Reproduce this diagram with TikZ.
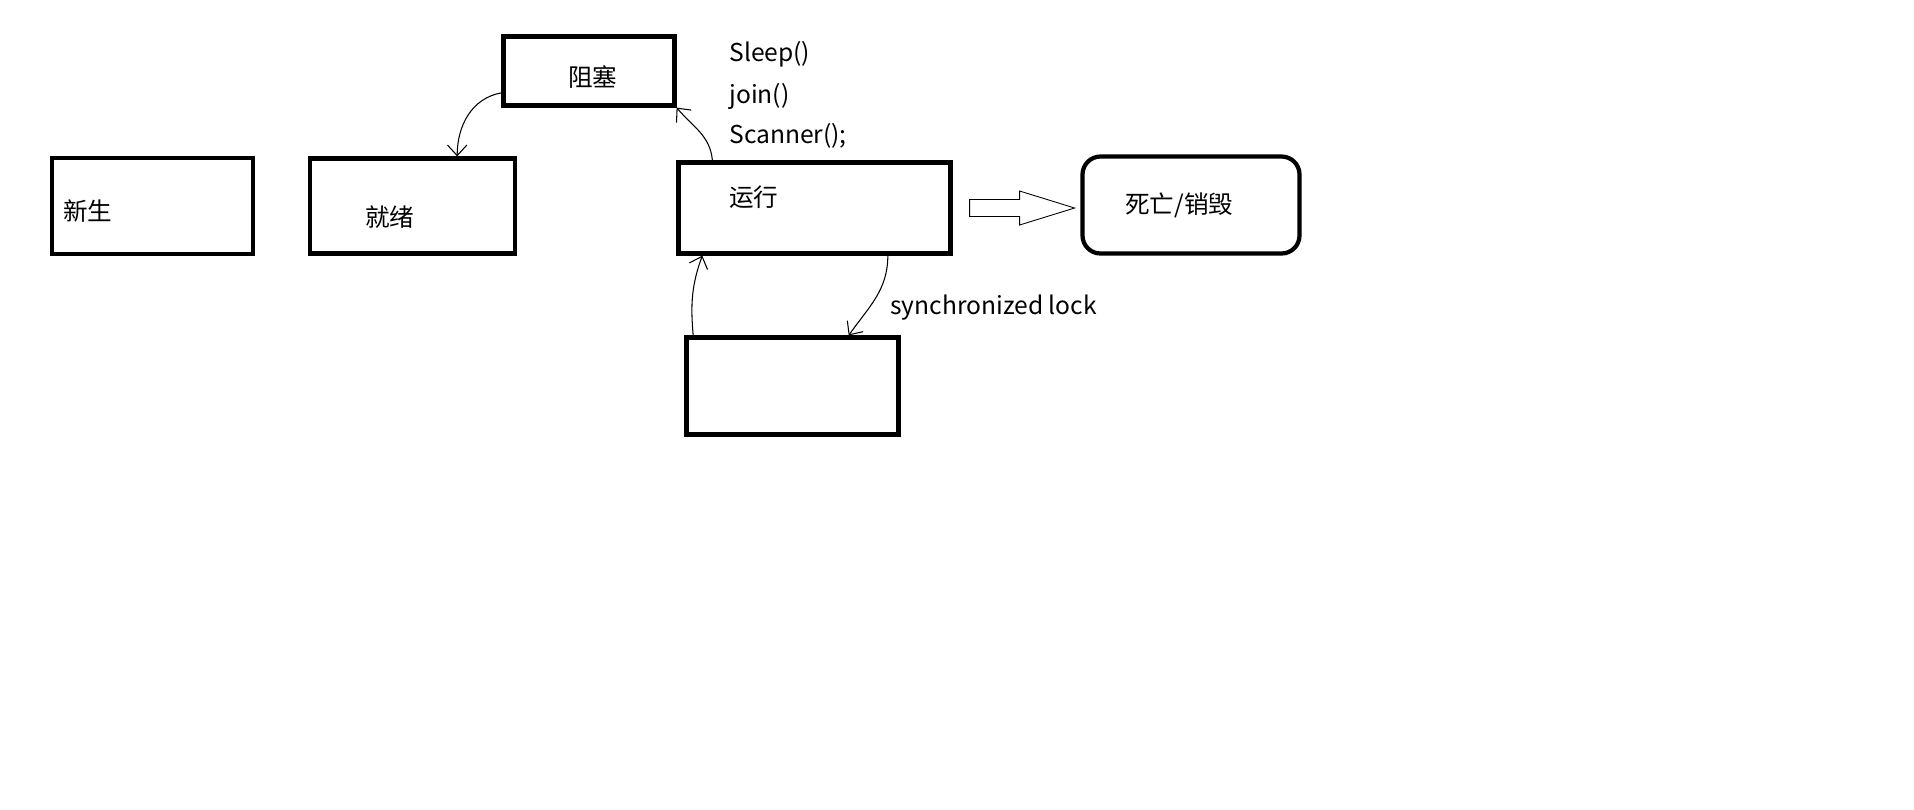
\documentclass[tikz,border=0pt]{standalone}
\usepackage{fontspec}
\newfontfamily\cjk{Noto Sans CJK SC}
\usetikzlibrary{arrows.meta,calc}
\tikzset{
    state/.style={draw, line width=2.4pt, inner sep=0pt},
    txt/.style={anchor=west, inner sep=0pt, font=\cjk\fontsize{14pt}{16pt}\selectfont},
    hand/.style={line width=0.6pt, -{Straight Barb[length=6pt,width=11pt]}}
}

\begin{document}
\begin{tikzpicture}
    \useasboundingbox (0,0) rectangle (38.28,-16.18);
    % the states
    \node[state, minimum width=4.02cm, minimum height=1.92cm] (newborn) at (3.05,-4.12) {};
    \node[state, minimum width=4.10cm, minimum height=1.90cm] (ready) at (8.25,-4.12) {};
    \node[state, minimum width=3.42cm, minimum height=1.38cm] (blocked) at (11.78,-1.42) {};
    \node[state, minimum width=5.44cm, minimum height=1.82cm] (run) at (16.29,-4.16) {};
    \node[state, rounded corners=0.36cm, minimum width=4.34cm, minimum height=1.94cm] (dead) at (23.82,-4.10) {};
    \node[state, minimum width=4.24cm, minimum height=1.94cm] (lockpool) at (15.85,-7.72) {};
    % texts
    \node[txt] (newborntxt) at (1.26,-4.22) {新生};
    \node[txt] (readytxt) at (7.30,-4.34) {就绪};
    \node[txt] (blockedtxt) at (11.36,-1.54) {阻塞};
    \node[txt] (runtxt) at (14.58,-3.94) {运行};
    \node[txt] (deadtxt) at (22.50,-4.10) {死亡/销毁};
    \node[txt] (sleeptxt) at (14.58,-1.08) {Sleep()};
    \node[txt] (jointxt) at (14.58,-1.92) {join()};
    \node[txt] (scantxt) at (14.58,-2.72) {Scanner();};
    \node[txt] (locktxt) at (17.80,-6.16) {synchronized lock};
    % hand drawn arrows
    \draw[hand] (blocked.194) to[out=190,in=90] (ready.48);
    \draw[hand] (run.155) to[out=95,in=-50] (blocked.south east);
    \draw[hand] (lockpool.153) to[out=95,in=-110] (run.203);
    \draw[hand] (run.-33) to[out=-90,in=55] (lockpool.42);
    % hollow arrow to the end
    \coordinate (tail) at ($(run.east)+(0.34,0)$);
    \draw[line width=0.5pt] (tail) ++(0,0.17) -- ++(1.0,0) -- ++(0,0.17)
        -- ++(1.1,-0.34) -- ++(-1.1,-0.34) -- ++(0,0.17) -- ++(-1.0,0) -- cycle;
\end{tikzpicture}
\end{document}
